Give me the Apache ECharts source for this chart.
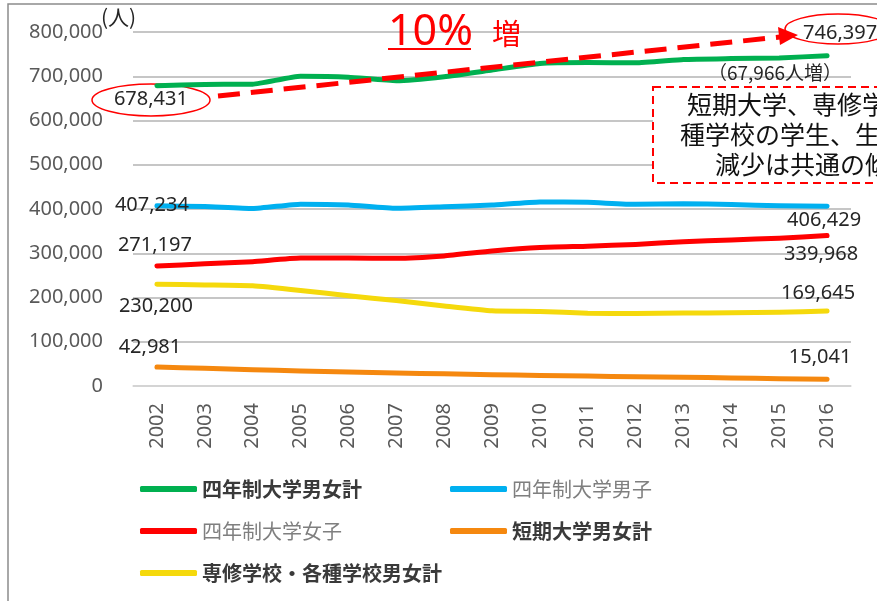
<!DOCTYPE html>
<html>
<head>
<meta charset="utf-8">
<script src="https://cdn.jsdelivr.net/npm/echarts@6/dist/echarts.min.js"></script>
<style>
  html, body { margin: 0; padding: 0; background: #fff; }
  #chart { width: 877px; height: 601px; }
</style>
</head>
<body>
<div id="chart"></div>
<script>
// 年度
const years = ['2002', '2003', '2004', '2005', '2006', '2007', '2008', '2009',
               '2010', '2011', '2012', '2013', '2014', '2015', '2016'];

// 在籍者数（人）
const univTotal  = [678431, 681500, 682000, 700000, 698000, 690000, 699000, 714000,
                    729000, 731000, 730500, 738000, 740000, 741500, 746397];
const univMale   = [407234, 405500, 401000, 411000, 409000, 401500, 405000, 409000,
                    416000, 415000, 410500, 412000, 410000, 407500, 406429];
const univFemale = [271197, 276000, 281000, 289000, 289000, 288500, 294000, 305000,
                    313000, 316000, 320000, 326000, 330000, 334000, 339968];
const juniorCollege = [42981, 40000, 37000, 34000, 31500, 29500, 27500, 25500,
                       24000, 22500, 21000, 20000, 18000, 16500, 15041];
const vocational = [230200, 228500, 226500, 216000, 204000, 193000, 181000, 170000,
                    168500, 164500, 164000, 165000, 165500, 166500, 169645];

// 縦軸の目盛
const yTicks = [0, 100000, 200000, 300000, 400000, 500000, 600000, 700000, 800000];

const fmt = v => Number(v).toLocaleString('en-US');
const numFont = "'Noto Sans', 'Noto Sans CJK JP', sans-serif";
const jpFont = "'Noto Sans CJK JP', 'Noto Sans', sans-serif";

// 系列の見た目と、始点・終点ラベルのずらし量
const seriesDefs = [
  { name: '四年制大学男女計', values: univTotal, color: '#00b050', offsets: [[-6, 14], [13, -22]], bold: true },
  { name: '四年制大学男子', values: univMale, color: '#00b0f0', offsets: [[-5, -1], [-3, 14]], bold: false },
  { name: '四年制大学女子', values: univFemale, color: '#ff0000', offsets: [[-2, -21], [-6, 19]], bold: false },
  { name: '短期大学男女計', values: juniorCollege, color: '#f5880f', offsets: [[-7, -20], [-7, -22]], bold: true },
  { name: '専修学校・各種学校男女計', values: vocational, color: '#f5d90c', offsets: [[-1, 22], [-9, -18]], bold: true }
];

const series = seriesDefs.map(d => {
  const last = d.values.length - 1;
  return {
    name: d.name,
    type: 'line',
    smooth: 0.15,
    symbol: 'circle',
    symbolSize: 2,
    showSymbol: true,
    itemStyle: { color: d.color },
    lineStyle: { color: d.color, width: 5, cap: 'round', join: 'round' },
    emphasis: { disabled: true },
    data: d.values.map((v, i) => {
      if (i !== 0 && i !== last) return v;
      const off = d.offsets[i === 0 ? 0 : 1];
      return {
        value: v,
        label: {
          show: true,
          position: 'inside',
          offset: off,
          formatter: p => fmt(p.value),
          fontFamily: numFont,
          fontSize: 20,
          color: '#262626',
          align: 'center',
          verticalAlign: 'middle'
        }
      };
    })
  };
});

// 凡例（2列配置）
const legendPos = [[140, 478], [450, 478], [140, 520], [450, 520], [140, 562]];
const legends = seriesDefs.map((d, i) => ({
  data: [d.name],
  left: legendPos[i][0],
  top: legendPos[i][1],
  padding: 0,
  icon: 'roundRect',
  itemWidth: 57,
  itemHeight: 6,
  selectedMode: false,
  textStyle: {
    fontFamily: jpFont,
    fontSize: 20,
    lineHeight: 22,
    fontWeight: d.bold ? 'bold' : 'normal',
    color: d.bold ? '#3a3a3a' : '#7f7f7f'
  }
}));

const chart = echarts.init(document.getElementById('chart'), null, { renderer: 'canvas' });

chart.setOption({
  animation: false,
  backgroundColor: '#ffffff',
  grid: { left: 133, right: 26, top: 32, bottom: 215, containLabel: false },
  xAxis: {
    type: 'category',
    data: years,
    boundaryGap: true,
    axisLine: { lineStyle: { color: '#d9d9d9', width: 1.5 } },
    axisTick: { show: false },
    axisLabel: {
      rotate: 90,
      margin: 17,
      fontFamily: numFont,
      fontSize: 20,
      color: '#595959'
    }
  },
  yAxis: {
    type: 'value',
    min: yTicks[0],
    max: yTicks[yTicks.length - 1],
    interval: yTicks[1] - yTicks[0],
    axisLine: { show: false },
    axisTick: { show: false },
    splitLine: { lineStyle: { color: '#b3b3b3', width: 1.5 } },
    axisLabel: {
      margin: 30,
      formatter: v => fmt(v),
      fontFamily: numFont,
      fontSize: 20,
      color: '#595959'
    }
  },
  legend: legends,
  series: series,
  graphic: [
    // 外枠
    { type: 'rect', z: 0, silent: true,
      shape: { x: 8, y: 4, width: 1000, height: 1000 },
      style: { fill: 'none', stroke: '#8c8c8c', lineWidth: 1.5 } },
    // 単位
    { type: 'text', left: 101, top: 7, z: 10, silent: true,
      style: { text: '(人)', fontFamily: jpFont, fontSize: 21, fill: '#262626' } },
    // 増加率
    { type: 'text', left: 388, top: 11, z: 10, silent: true,
      style: { text: '10%', fontFamily: numFont, fontSize: 43, fill: '#ff0000' } },
    { type: 'line', z: 10, silent: true,
      shape: { x1: 388, y1: 49, x2: 471, y2: 49 },
      style: { stroke: '#ff0000', lineWidth: 2 } },
    { type: 'text', left: 492, top: 19, z: 10, silent: true,
      style: { text: '増', fontFamily: jpFont, fontSize: 29, fill: '#ff0000' } },
    // 始点・終点の囲み
    { type: 'ellipse', z: 1, silent: true,
      shape: { cx: 151, cy: 100, rx: 59, ry: 16 },
      style: { fill: 'none', stroke: '#ff0000', lineWidth: 1.5 } },
    { type: 'ellipse', z: 1, silent: true,
      shape: { cx: 838, cy: 29, rx: 53, ry: 15 },
      style: { fill: '#ffffff', stroke: '#ff0000', lineWidth: 1.5 } },
    // 増加を示す破線矢印
    { type: 'line', z: 20, silent: true,
      shape: { x1: 218, y1: 96, x2: 780, y2: 37 },
      style: { stroke: '#ff0000', lineWidth: 5, lineDash: [22, 11] } },
    { type: 'polygon', z: 20, silent: true,
      shape: { points: [[798, 35], [778, 27], [780, 45]] },
      style: { fill: '#ff0000' } },
    // 増加数
    { type: 'text', left: 708, top: 63, z: 10, silent: true,
      style: { text: '（67,966人増）', fontFamily: jpFont, fontSize: 19, fill: '#262626' } },
    // 注記ボックス
    { type: 'rect', z: 15, silent: true,
      shape: { x: 653, y: 87, width: 400, height: 96 },
      style: { fill: '#ffffff', stroke: '#ff0000', lineWidth: 2, lineDash: [8, 5] } },
    { type: 'text', left: 687, top: 92, z: 16, silent: true,
      style: { text: '短期大学、専修学校・各', fontFamily: jpFont, fontSize: 25, fill: '#111111' } },
    { type: 'text', left: 680, top: 122, z: 16, silent: true,
      style: { text: '種学校の学生、生徒数の', fontFamily: jpFont, fontSize: 25, fill: '#111111' } },
    { type: 'text', left: 715, top: 152, z: 16, silent: true,
      style: { text: '減少は共通の傾向', fontFamily: jpFont, fontSize: 25, fill: '#111111' } }
  ]
});
</script>
</body>
</html>
